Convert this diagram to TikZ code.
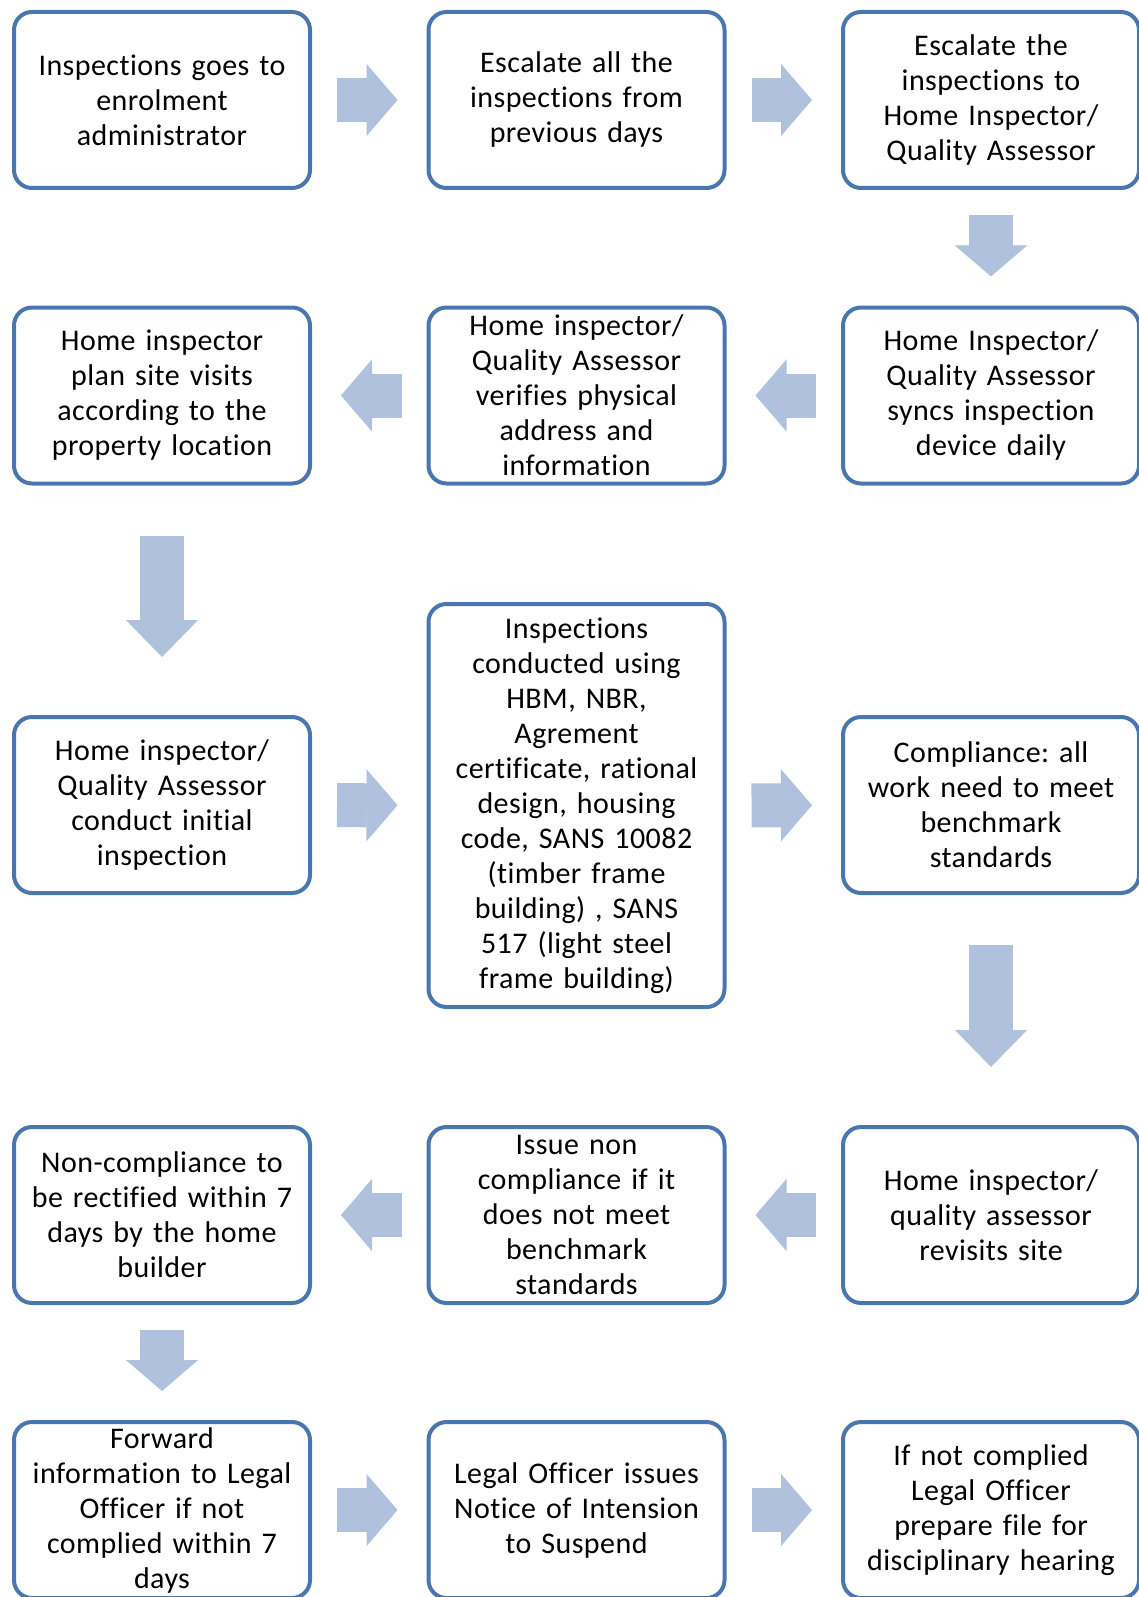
\documentclass[tikz,border=0pt]{standalone}
\usepackage{fontspec}
\setmainfont{Carlito}[LetterSpace=1.5, Ligatures=NoCommon]
\usepackage{tikz}
\usetikzlibrary{arrows.meta}
\usetikzlibrary{positioning}
\definecolor{boxblue}{RGB}{74,118,174}
\definecolor{arrowblue}{RGB}{176,193,222}
\frenchspacing
\tikzstyle{block} = [draw=boxblue, line width=4pt, rectangle, rounded corners=18pt, fill=white,
  minimum width=296pt, minimum height=176pt, text width=290pt, align=center, inner sep=0pt,
  font=\fontsize{30}{35}\selectfont]
\tikzstyle{flow} = [draw=arrowblue, line width=44pt,
  -{Triangle[width=72pt,length=31pt,line width=1pt]}, shorten <=25pt, shorten >=29pt]
\tikzstyle{longflow} = [flow, -{Triangle[width=72pt,length=37pt,line width=1pt]}, shorten <=50pt, shorten >=58pt]

\begin{document}
\begin{tikzpicture}[x=1pt, y=1pt]
    \useasboundingbox (0,0) rectangle (1139,-1597);

    % first row
    \node [block, name=admin] at (162,-100) {Inspections goes to\\ enrolment\\ administrator};
    \node [block, name=escalate] at (576.5,-100) {Escalate all the\\ inspections from\\ previous days};
    \node [block, name=hiqa] at (991,-100) {Escalate the\\ inspections to\\ Home Inspector/\\ Quality Assessor};

    % second row
    \node [block, name=sync] at (991,-395.5) {Home Inspector/\\ Quality Assessor\\ syncs inspection\\ device daily};
    \node [block, name=verify] at (576.5,-395.5) {Home inspector/\\ Quality Assessor\\ verifies physical\\ address and\\ information};
    \node [block, name=plan] at (162,-395.5) {Home inspector\\ plan site visits\\ according to the\\ property location};

    % third row
    \node [block, name=initial] at (162,-805) {Home inspector/\\ Quality Assessor\\ conduct initial\\ inspection};
    \node [block, minimum height=403pt, name=conduct] at (576.5,-805.5) {Inspections\\ conducted using\\ HBM, NBR,\\ Agrement\\ certificate, rational\\ design, housing\\ code, SANS 10082\\ (timber frame\\ building) , SANS\\ 517 (light steel\\ frame building)};
    \node [block, name=comply] at (991,-805) {Compliance: all\\ work need to meet\\ benchmark\\ standards};

    % fourth row
    \node [block, name=revisit] at (991,-1215) {Home inspector/\\ quality assessor\\ revisits site};
    \node [block, name=issue] at (576.5,-1215) {Issue non\\ compliance if it\\ does not meet\\ benchmark\\ standards};
    \node [block, name=rectify] at (162,-1215) {Non-compliance to\\ be rectified within 7\\ days by the home\\ builder};

    % fifth row
    \node [block, name=forward] at (162,-1510) {Forward\\ information to Legal\\ Officer if not\\ complied within 7\\ days};
    \node [block, name=notice] at (576.5,-1510) {Legal Officer issues\\ Notice of Intension\\ to Suspend};
    \node [block, name=hearing] at (991,-1510) {If not complied\\ Legal Officer\\ prepare file for\\ disciplinary hearing};

    \draw [flow] (admin) -- (escalate);
    \draw [flow] (escalate) -- (hiqa);
    \draw [flow] (hiqa) -- (sync);
    \draw [flow] (sync) -- (verify);
    \draw [flow] (verify) -- (plan);
    \draw [longflow] (plan) -- (initial);
    \draw [flow] (initial) -- (conduct);
    \draw [flow] (conduct) -- (comply);
    \draw [longflow] (comply) -- (revisit);
    \draw [flow] (revisit) -- (issue);
    \draw [flow] (issue) -- (rectify);
    \draw [flow] (rectify) -- (forward);
    \draw [flow] (forward) -- (notice);
    \draw [flow] (notice) -- (hearing);
  \end{tikzpicture}
\end{document}
